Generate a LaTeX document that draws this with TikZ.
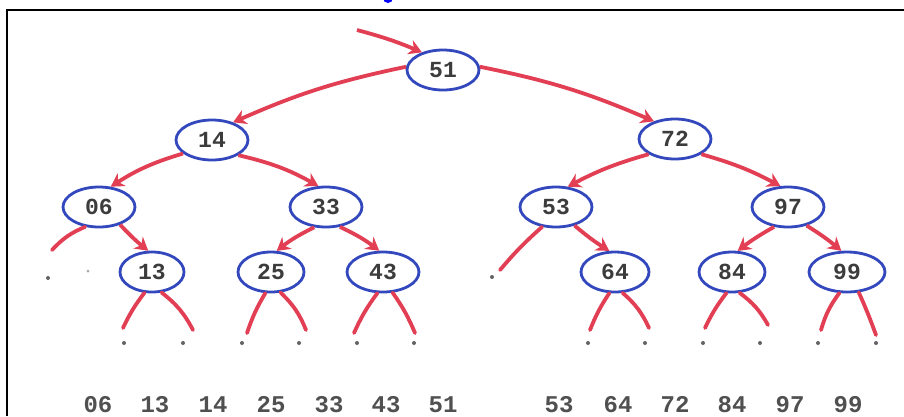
\documentclass[tikz,border=0pt]{standalone}
\usepackage{fontspec}
\setmonofont{Liberation Mono}
\usetikzlibrary{arrows.meta,shapes.geometric}
\definecolor{edgered}{RGB}{226,62,84}
\definecolor{ringblue}{RGB}{52,72,190}
\definecolor{digit}{RGB}{60,60,60}
\tikzset{
  keynode/.style={ellipse,draw=ringblue,line width=2.8pt,minimum width=72pt,minimum height=40pt,inner sep=0pt,
    font=\ttfamily\bfseries\fontsize{23}{23}\selectfont,text=digit},
  link/.style={draw=edgered,line width=3.8pt,-{Stealth[length=13pt,width=15pt]}},
  nulllink/.style={draw=edgered,line width=3.8pt,line cap=round},
  nulldot/.style={circle,fill=digit!80,inner sep=0pt,minimum size=4pt},
  listkey/.style={font=\ttfamily\bfseries\fontsize{24}{24}\selectfont,text=digit!90,inner sep=0pt,
    anchor=base,text depth=0pt}
}
\begin{document}
\begin{tikzpicture}[x=1pt,y=-1pt]
\useasboundingbox (0,0) rectangle (904,416);
\clip (0,0) rectangle (904,416);
\fill[white] (0,0) rectangle (904,416);
% frame
\draw[line width=1.3pt] (7,416) -- (7,10) -- (904,10);
\fill[blue] (388,-2) circle (5pt);
% keys
\node[keynode] (n51) at (443,70) {51};
\node[keynode] (n14) at (212,140) {14};
\node[keynode] (n72) at (675,139) {72};
\node[keynode] (n06) at (99,207) {06};
\node[keynode] (n33) at (326,207) {33};
\node[keynode] (n53) at (556,207) {53};
\node[keynode] (n97) at (788,207) {97};
\node[keynode,minimum width=64pt] (n13) at (152,272) {13};
\node[keynode,minimum width=66pt] (n25) at (271,272) {25};
\node[keynode] (n43) at (383,272) {43};
\node[keynode,minimum width=68pt] (n64) at (615,272) {64};
\node[keynode,minimum width=66pt] (n84) at (732,272) {84};
\node[keynode,minimum width=76pt] (n99) at (847,272) {99};
% entry arrow
\coordinate (entry) at (357,30);
\draw[link] (entry) to[bend left=4] (n51.140);
% links
\draw[link] (n51.175) to[bend right=6] (n14.40);
\draw[link] (n51.5) to[bend left=6] (n72.140);
\draw[link] (n14.205) to[bend right=8] (n06.60);
\draw[link] (n14.-30) to[bend left=8] (n33.110);
\draw[link] (n72.210) to[bend right=6] (n53.60);
\draw[link] (n72.-30) to[bend left=6] (n97.110);
\draw[link] (n06.-40) to[bend right=4] (n13.100);
\draw[link] (n33.240) to[bend right=6] (n25.75);
\draw[link] (n33.-55) to[bend left=6] (n43.100);
\draw[link] (n53.-45) to[bend right=4] (n64.105);
\draw[link] (n97.235) to[bend right=4] (n84.75);
\draw[link] (n97.-45) to[bend left=4] (n99.105);
% null dots
\node[nulldot] (d06a) at (48,278) {};
\node[nulldot,minimum size=3pt,fill=digit!45] (d06b) at (88,271) {};
\node[nulldot] (d13a) at (124,343) {};
\node[nulldot] (d13b) at (183,343) {};
\node[nulldot] (d25a) at (242,343) {};
\node[nulldot] (d25b) at (299,343) {};
\node[nulldot] (d43a) at (357,343) {};
\node[nulldot] (d43b) at (414,343) {};
\node[nulldot] (d53a) at (492,277) {};
\node[nulldot] (d64a) at (588,343) {};
\node[nulldot] (d64b) at (645,343) {};
\node[nulldot] (d84a) at (703,343) {};
\node[nulldot] (d84b) at (760,343) {};
\node[nulldot] (d99a) at (818,343) {};
\node[nulldot] (d99b) at (876,343) {};
% null link ends
\coordinate (e06a) at (52,250);
\coordinate (e13a) at (123,328);
\coordinate (e13b) at (193,330);
\coordinate (e25a) at (247,333);
\coordinate (e25b) at (306,330);
\coordinate (e43a) at (354,333);
\coordinate (e43b) at (415,333);
\coordinate (e53a) at (500,270);
\coordinate (e64a) at (590,330);
\coordinate (e64b) at (649,328);
\coordinate (e84a) at (705,328);
\coordinate (e84b) at (768,325);
\coordinate (e99a) at (821,330);
\coordinate (e99b) at (876,335);
\draw[nulllink] (n06.235) to[bend right=12] (e06a);
\draw[nulllink] (n13.250) to[bend right=6] (e13a);
\draw[nulllink] (n13.295) to[bend left=12] (e13b);
\draw[nulllink] (n25.255) to[bend right=6] (e25a);
\draw[nulllink] (n25.295) to[bend left=12] (e25b);
\draw[nulllink] (n43.255) to[bend right=6] (e43a);
\draw[nulllink] (n43.295) to[bend left=6] (e43b);
\draw[nulllink] (n53.235) to[bend right=4] (e53a);
\draw[nulllink] (n64.255) to[bend right=6] (e64a);
\draw[nulllink] (n64.290) to[bend left=12] (e64b);
\draw[nulllink] (n84.255) to[bend right=6] (e84a);
\draw[nulllink] (n84.290) to[bend left=12] (e84b);
\draw[nulllink] (n99.250) to[bend right=10] (e99a);
\draw[nulllink] (n99.300) to[bend left=2] (e99b);
% sorted list
\node[listkey] (s06) at (98,412) {06};
\node[listkey] (s13) at (155,412) {13};
\node[listkey] (s14) at (213,412) {14};
\node[listkey] (s25) at (271,412) {25};
\node[listkey] (s33) at (329,412) {33};
\node[listkey] (s43) at (386,412) {43};
\node[listkey] (s51) at (443,412) {51};
\node[listkey] (s53) at (559,412) {53};
\node[listkey] (s64) at (618,412) {64};
\node[listkey] (s72) at (675,412) {72};
\node[listkey] (s84) at (732,412) {84};
\node[listkey] (s97) at (790,412) {97};
\node[listkey] (s99) at (848,412) {99};
\end{tikzpicture}
\end{document}
